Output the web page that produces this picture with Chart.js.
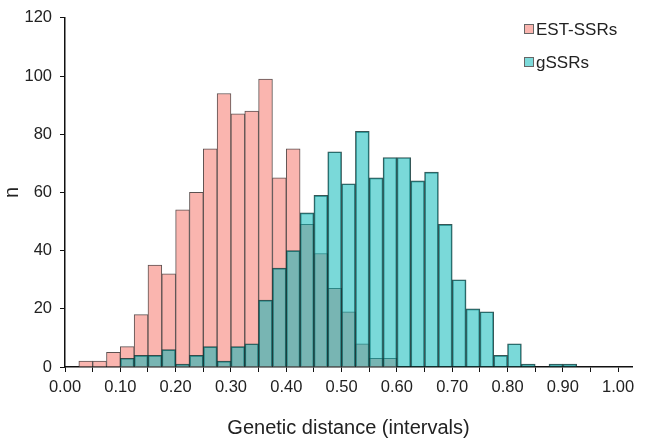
<!DOCTYPE html>
<html>
<head>
<meta charset="utf-8">
<script src="https://cdn.jsdelivr.net/npm/chart.js@4"></script>
<style>
  body { margin: 0; background: #fff; }
  #wrap { position: relative; width: 645px; height: 440px; }
  .legend { position: absolute; left: 524px; font: 17px "Liberation Sans", Arial, sans-serif; line-height: 20px; color: #222; }
  .legend span.box { display: inline-block; width: 8px; height: 8px; border: 1px solid #666; margin-right: 2px; vertical-align: 1px; }
</style>
</head>
<body>
<div id="wrap">
  <canvas id="histChart" width="645" height="440"></canvas>
  <div class="legend" id="legendEst" style="top:20px"><span class="box"></span>EST-SSRs</div>
  <div class="legend" id="legendG" style="top:53px"><span class="box"></span>gSSRs</div>
</div>
<script>
// bins of 0.025 from 0.00 to 1.00
const binStart = 0;
const binWidth = 0.025;
const estSsrs = [0, 2, 2, 5, 7, 18, 35, 32, 54, 60, 75, 94, 87, 88, 99, 65, 75, 49, 39, 27,
                 19, 8, 3, 3, 0, 0, 0, 0, 0, 0, 0, 0, 0, 0, 0, 0, 0, 0, 0, 0];
const gSsrs = [0, 0, 0, 0, 3, 4, 4, 6, 1, 4, 7, 2, 7, 8, 23, 34, 40, 53, 59, 74,
               63, 81, 65, 72, 72, 64, 67, 49, 30, 20, 19, 4, 8, 1, 0, 1, 1, 0, 0, 0];
const xTicks = [0, 0.05, 0.1, 0.15, 0.2, 0.25, 0.3, 0.35, 0.4, 0.45, 0.5,
                0.55, 0.6, 0.65, 0.7, 0.75, 0.8, 0.85, 0.9, 0.95, 1.0];
const yTicks = [0, 20, 40, 60, 80, 100, 120];

const pinkFill = '#FAB5AF';
const tealFill = 'rgba(0,182,182,0.52)';

document.getElementById('legendEst').querySelector('.box').style.background = pinkFill;
document.getElementById('legendG').querySelector('.box').style.background = '#7CDADA';

function toPoints(values) {
    return values.map((v, i) => ({ x: binStart + binWidth * i + binWidth / 2, y: v }));
}

const tickFont = { family: '"Liberation Sans", Arial, sans-serif', size: 16.5 };
const titleFont = { family: '"Liberation Sans", Arial, sans-serif', size: 20 };

const ctx = document.getElementById('histChart').getContext('2d');
new Chart(ctx, {
    type: 'bar',
    data: {
        datasets: [
            {
                label: 'EST-SSRs',
                data: toPoints(estSsrs),
                backgroundColor: pinkFill,
                borderColor: '#5c5150',
                borderWidth: 1,
                order: 2
            },
            {
                label: 'gSSRs',
                data: toPoints(gSsrs),
                backgroundColor: tealFill,
                borderColor: 'rgba(20,55,55,0.85)',
                borderWidth: 1,
                order: 1
            }
        ]
    },
    options: {
        responsive: false,
        animation: false,
        grouped: false,
        barPercentage: 1,
        categoryPercentage: 1,
        layout: { padding: { top: 13, right: 13, left: 0, bottom: 0 } },
        plugins: {
            legend: { display: false },
            tooltip: { enabled: false }
        },
        scales: {
            x: {
                type: 'linear',
                min: 0,
                max: 1.025,
                offset: false,
                afterBuildTicks: scale => { scale.ticks = xTicks.map(v => ({ value: v })); },
                afterFit: scale => { scale.height = 73; },
                ticks: {
                    font: tickFont,
                    color: '#222',
                    maxRotation: 0,
                    autoSkip: false,
                    padding: 6,
                    callback: v => (Math.round(v * 100) % 10 === 0 ? v.toFixed(2) : '')
                },
                grid: { drawOnChartArea: false, offset: false, tickLength: 5, color: '#111' },
                border: { color: '#111', width: 1.5 },
                title: {
                    display: true,
                    text: 'Genetic distance (intervals)',
                    font: titleFont,
                    color: '#222',
                    padding: { top: 0, bottom: 0 }
                }
            },
            y: {
                min: 0,
                max: 120,
                afterBuildTicks: scale => { scale.ticks = yTicks.map(v => ({ value: v })); },
                afterFit: scale => { scale.width = 65; },
                ticks: { font: tickFont, color: '#222', padding: 8 },
                grid: { drawOnChartArea: false, tickLength: 5, color: '#111' },
                border: { color: '#111', width: 1.5 },
                title: {
                    display: true,
                    text: 'n',
                    font: titleFont,
                    color: '#222',
                    padding: { top: 0, bottom: 0 }
                }
            }
        }
    }
});
</script>
</body>
</html>
